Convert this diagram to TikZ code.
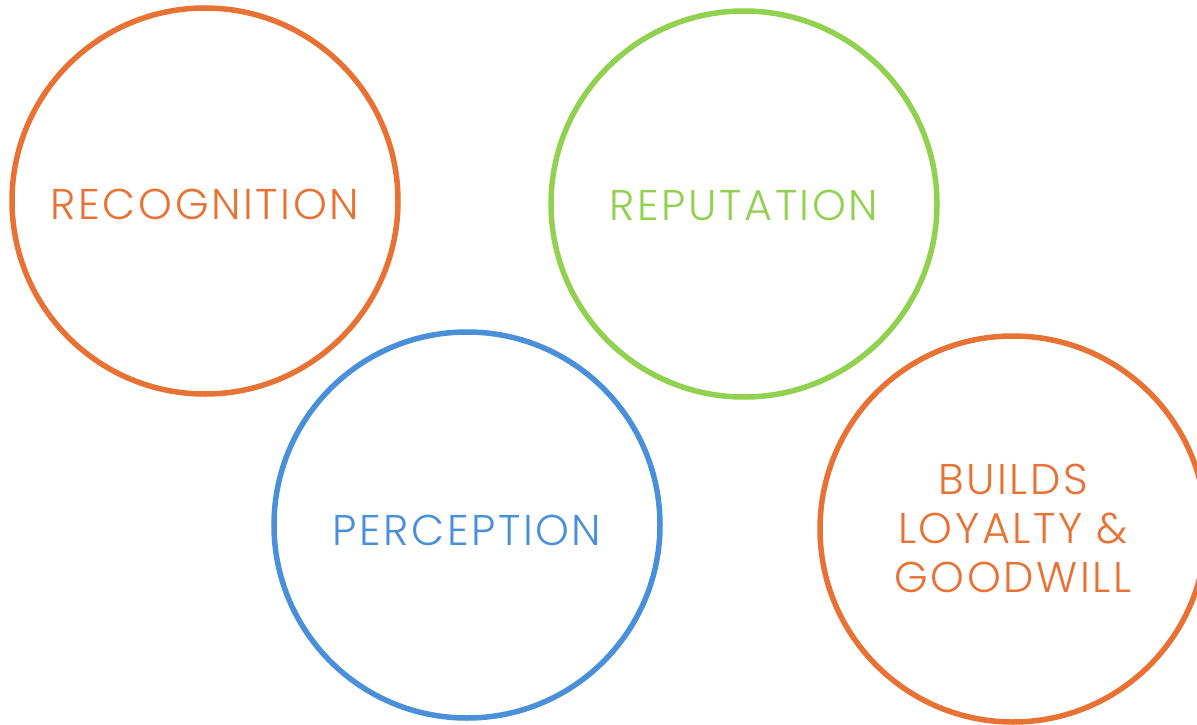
\documentclass[tikz,border=0pt]{standalone}
\usepackage{fontspec}
\setmainfont{Poppins}[UprightFont=* Light, LetterSpace=6]
\definecolor{corange}{HTML}{E87234}
\definecolor{cgreen}{HTML}{92D050}
\definecolor{cblue}{HTML}{4A90D9}
\begin{document}
\begin{tikzpicture}[x=1pt,y=-1pt,
  ring/.style={draw=#1, line width=5.5pt, circle, minimum size=386pt, inner sep=0pt},
  lbl/.style={text=#1, font=\fontsize{43}{49}\selectfont, align=center}]
\useasboundingbox (0,0) rectangle (1197,725);
\begin{scope}
\clip (0,0) rectangle (1197,725);
\node[ring=corange] (c1) at (205,201) {};
\node[ring=cgreen] (c2) at (744,204) {};
\node[ring=cblue] (c3) at (467,525) {};
\node[ring=corange] (c4) at (1013,529) {};
\end{scope}
\node[lbl=corange] (t1) at ([yshift=-3pt]c1) {RECOGNITION};
\node[lbl=cgreen] (t2) at ([yshift=-1pt]c2) {REPUTATION};
\node[lbl=cblue] (t3) at ([yshift=-5pt]c3) {PERCEPTION};
\node[lbl=corange] (t4) at ([yshift=1pt]c4) {BUILDS\\LOYALTY \&\\GOODWILL};
\end{tikzpicture}
\end{document}
